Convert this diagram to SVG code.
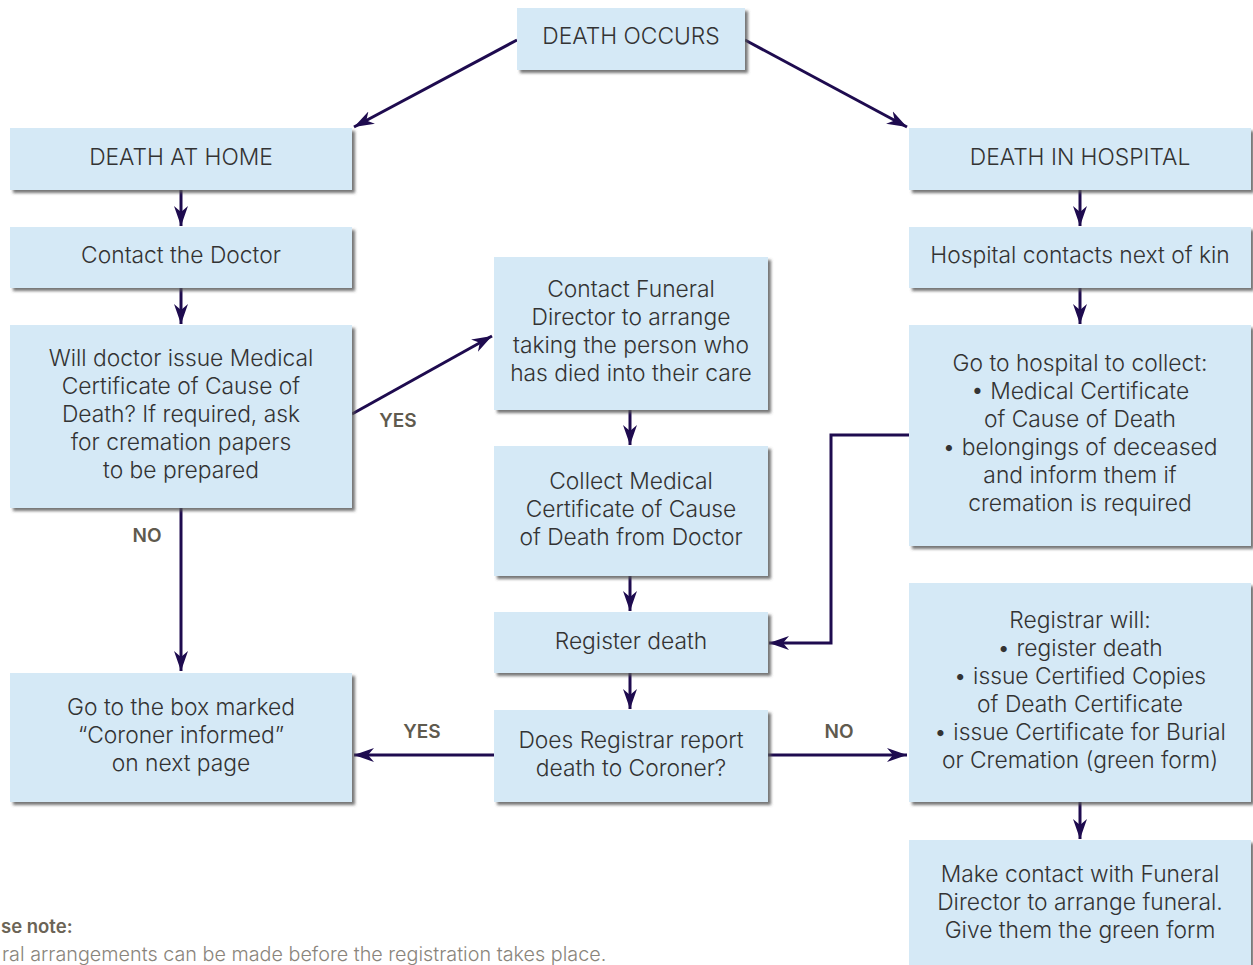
<svg xmlns="http://www.w3.org/2000/svg" width="1253" height="965" viewBox="0 0 1253 965">
<defs>
<filter id="sh" x="-5%" y="-10%" width="115%" height="130%">
<feDropShadow dx="3" dy="3" stdDeviation="1.5" flood-color="#555" flood-opacity="0.8"/>
</filter>
<marker id="ah" markerUnits="userSpaceOnUse" markerWidth="22" markerHeight="16" refX="20" refY="8" orient="auto">
<path d="M0,1 L20,8 L0,15 L6,8 z" fill="#1e0b4f"/>
</marker>
<style>
.box{fill:#d5e9f6;filter:url(#sh)}
.t{font-family:Inter,"Noto Sans","Liberation Sans",sans-serif;font-weight:300;font-size:22.8px;fill:#333;text-anchor:middle}
.lbl{font-family:Inter,"Noto Sans","Liberation Sans",sans-serif;font-weight:600;font-size:19px;fill:#5f5a4e;text-anchor:middle}
.c{fill:none;stroke:#1e0b4f;stroke-width:3;marker-end:url(#ah)}
.note1{font-family:Inter,"Noto Sans","Liberation Sans",sans-serif;font-weight:600;font-size:18.5px;fill:#6b6456}
.note2{font-family:Inter,"Noto Sans","Liberation Sans",sans-serif;font-weight:300;font-size:19.8px;fill:#8a857c}
</style>
</defs>
<rect width="1253" height="965" fill="#fff"/>
<g id="connectors">
<line class="c" x1="517" y1="40" x2="354" y2="127"/>
<line class="c" x1="745" y1="40" x2="907" y2="127"/>
<line class="c" x1="181" y1="190" x2="181" y2="226"/>
<line class="c" x1="181" y1="288" x2="181" y2="324"/>
<line class="c" x1="181" y1="508" x2="181" y2="671"/>
<line class="c" x1="352" y1="414" x2="492" y2="336"/>
<line class="c" x1="630" y1="410" x2="630" y2="445"/>
<line class="c" x1="630" y1="576" x2="630" y2="611"/>
<line class="c" x1="630" y1="673" x2="630" y2="709"/>
<line class="c" x1="1080" y1="190" x2="1080" y2="226"/>
<line class="c" x1="1080" y1="288" x2="1080" y2="324"/>
<line class="c" x1="1080" y1="802" x2="1080" y2="839"/>
<polyline class="c" points="909,435 831,435 831,643 769,643"/>
<line class="c" x1="494" y1="755" x2="354" y2="755"/>
<line class="c" x1="768" y1="755" x2="907" y2="755"/>
<text class="lbl" x="398" y="427">YES</text>
<text class="lbl" x="147" y="542">NO</text>
<text class="lbl" x="422" y="738">YES</text>
<text class="lbl" x="839" y="738">NO</text>
</g>
<g id="n1"><rect class="box" x="517" y="8" width="228" height="62"/><text class="t" x="631" y="44">DEATH OCCURS</text></g>
<g id="n2"><rect class="box" x="10" y="128" width="342" height="62"/><text class="t" x="181" y="165">DEATH AT HOME</text></g>
<g id="n3"><rect class="box" x="909" y="128" width="342" height="62"/><text class="t" x="1080" y="165">DEATH IN HOSPITAL</text></g>
<g id="n4"><rect class="box" x="10" y="227" width="342" height="61"/><text class="t" x="181" y="263">Contact the Doctor</text></g>
<g id="n5"><rect class="box" x="909" y="227" width="342" height="61"/><text class="t" x="1080" y="263">Hospital contacts next of kin</text></g>
<g id="n6"><rect class="box" x="10" y="325" width="342" height="183"/>
<text class="t" x="181" y="366">Will doctor issue Medical</text>
<text class="t" x="181" y="394">Certificate of Cause of</text>
<text class="t" x="181" y="422">Death? If required, ask</text>
<text class="t" x="181" y="450">for cremation papers</text>
<text class="t" x="181" y="478">to be prepared</text></g>
<g id="n7"><rect class="box" x="494" y="257" width="274" height="153"/>
<text class="t" x="631" y="297">Contact Funeral</text>
<text class="t" x="631" y="325">Director to arrange</text>
<text class="t" x="631" y="353">taking the person who</text>
<text class="t" x="631" y="381">has died into their care</text></g>
<g id="n8"><rect class="box" x="909" y="325" width="342" height="221"/>
<text class="t" x="1080" y="371">Go to hospital to collect:</text>
<text class="t" x="1080" y="399">•  Medical Certificate</text>
<text class="t" x="1080" y="427">of Cause of Death</text>
<text class="t" x="1080" y="455">• belongings of deceased</text>
<text class="t" x="1080" y="483">and inform them if</text>
<text class="t" x="1080" y="511">cremation is required</text></g>
<g id="n9"><rect class="box" x="494" y="446" width="274" height="130"/>
<text class="t" x="631" y="489">Collect Medical</text>
<text class="t" x="631" y="517">Certificate of Cause</text>
<text class="t" x="631" y="545">of Death from Doctor</text></g>
<g id="n10"><rect class="box" x="494" y="612" width="274" height="61"/><text class="t" x="631" y="649">Register death</text></g>
<g id="n11"><rect class="box" x="909" y="583" width="342" height="219"/>
<text class="t" x="1080" y="628">Registrar will:</text>
<text class="t" x="1080" y="656">• register death</text>
<text class="t" x="1080" y="684">• issue Certified Copies</text>
<text class="t" x="1080" y="712">of Death Certificate</text>
<text class="t" x="1080" y="740">• issue Certificate for Burial</text>
<text class="t" x="1080" y="768">or Cremation (green form)</text></g>
<g id="n12"><rect class="box" x="10" y="673" width="342" height="129"/>
<text class="t" x="181" y="715">Go to the box marked</text>
<text class="t" x="181" y="743">“Coroner informed”</text>
<text class="t" x="181" y="771">on next page</text></g>
<g id="n13"><rect class="box" x="494" y="710" width="274" height="92"/>
<text class="t" x="631" y="748">Does Registrar report</text>
<text class="t" x="631" y="776">death to Coroner?</text></g>
<g id="n14"><rect class="box" x="909" y="840" width="342" height="140"/>
<text class="t" x="1080" y="882">Make contact with Funeral</text>
<text class="t" x="1080" y="910">Director to arrange funeral.</text>
<text class="t" x="1080" y="938">Give them the green form</text></g>
<g id="note">
<text class="note1" x="1" y="933">se note:</text>
<text class="note2" x="2" y="961">ral arrangements can be made before the registration takes place.</text>
</g>
</svg>
